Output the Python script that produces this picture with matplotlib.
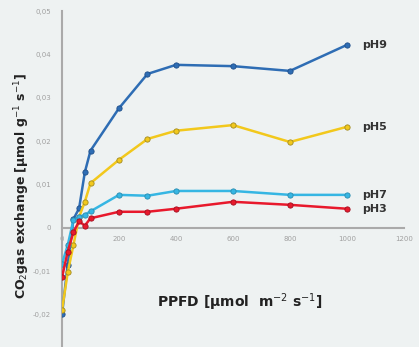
import numpy as np
import matplotlib
matplotlib.use('Agg')
import matplotlib.pyplot as plt

# PPFD steps (umol m-2 s-1)
ppfd = [0, 20, 40, 60, 80, 100, 200, 300, 400, 600, 800, 1000]

ph9 = [-0.0200, -0.0085, 0.0020, 0.0045, 0.0128, 0.0178, 0.0276, 0.0355, 0.0376, 0.0373, 0.0362, 0.0422]
ph5 = [-0.0190, -0.0103, -0.0040, 0.0025, 0.0060, 0.0103, 0.0157, 0.0205, 0.0224, 0.0237, 0.0198, 0.0233]
ph7 = [-0.0083, -0.0040, 0.0018, 0.0025, 0.0030, 0.0038, 0.0076, 0.0074, 0.0085, 0.0085, 0.0076, 0.0076]
ph3 = [-0.0114, -0.0055, -0.0010, 0.0015, 0.0005, 0.0022, 0.0037, 0.0037, 0.0044, 0.0060, 0.0053, 0.0044]

series = [('pH9', ph9, '#2e6db4', '#1f4f8a'),
          ('pH5', ph5, '#f2c81c', '#a08a20'),
          ('pH7', ph7, '#36b6e3', '#2a8cb0'),
          ('pH3', ph3, '#e8192c', '#a01020')]

yticks = [-0.02, -0.01, 0, 0.01, 0.02, 0.03, 0.04, 0.05]
ytick_labels = ['-0,02', '-0,01', '0', '0,01', '0,02', '0,03', '0,04', '0,05']
xticks = [0, 200, 400, 600, 800, 1000, 1200]

bg = '#eef2f2'
fig = plt.figure(figsize=(4.19, 3.47), dpi=100, facecolor=bg)
ax = fig.add_axes([0.148, 0.0, 0.816, 0.968], facecolor=bg)

for name, vals, col, edge in series:
    ax.plot(ppfd, vals, color=col, lw=1.8, marker='o', ms=3.8,
            markerfacecolor=col, markeredgecolor=edge, markeredgewidth=0.6, zorder=3)
    ax.text(1055, vals[-1], name, fontsize=8, fontweight='bold', color='#333333',
            va='center', ha='left')

ax.set_xlim(0, 1200)
ax.set_ylim(-0.0275, 0.05)

for s in ['top', 'right']:
    ax.spines[s].set_visible(False)
ax.spines['bottom'].set_position(('data', 0))
ax.spines['left'].set_color('#aaaaaa')
ax.spines['bottom'].set_color('#aaaaaa')
ax.spines['left'].set_linewidth(1.5)
ax.spines['bottom'].set_linewidth(1.5)

ax.set_yticks(yticks)
ax.set_yticklabels(ytick_labels)
ax.set_xticks(xticks)
ax.set_xticklabels([str(v) for v in xticks])
ax.tick_params(axis='both', length=0, labelsize=5, labelcolor='#a0a0a0')
ax.tick_params(axis='y', pad=8)
ax.tick_params(axis='x', pad=6)

fig.text(0.052, 0.465, 'CO$_2$gas exchange [µmol g$^{-1}$ s$^{-1}$]', rotation=90,
         fontsize=9, fontweight='bold', color='#222222', ha='center', va='center')
fig.text(0.573, 0.13, 'PPFD [µmol  m$^{-2}$ s$^{-1}$]', fontsize=10,
         fontweight='bold', color='#222222', ha='center', va='center')

fig.savefig('out.png', dpi=100, facecolor=bg)
